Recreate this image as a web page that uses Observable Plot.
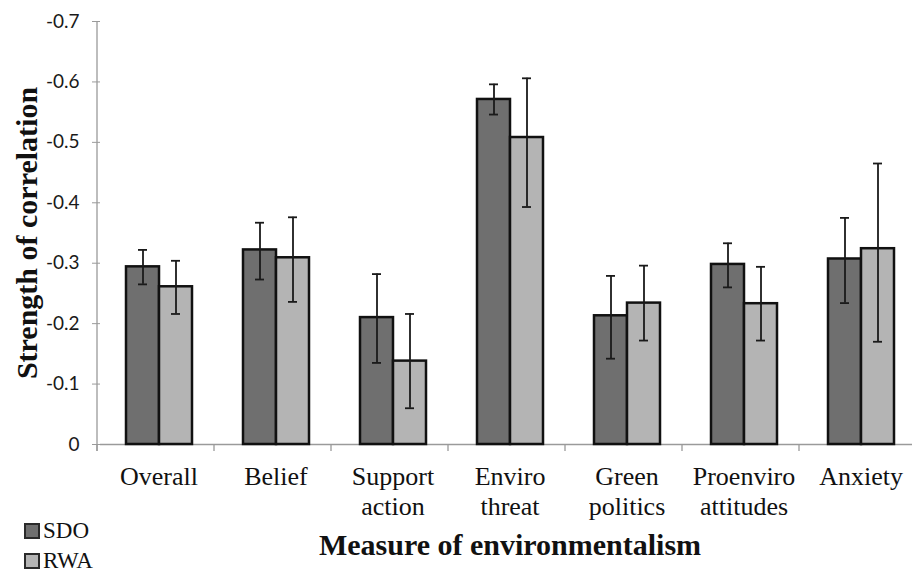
<!DOCTYPE html>
<html>
<head>
<meta charset="utf-8">
<script src="https://cdn.jsdelivr.net/npm/d3@7"></script>
<script src="https://cdn.jsdelivr.net/npm/@observablehq/plot@0.6"></script>
<style>
  html, body { margin: 0; padding: 0; background: #fff; }
  #wrap { position: relative; width: 912px; height: 575px; overflow: hidden; background: #fff; }
  #chart svg { display: block; overflow: hidden; }
  #below { position: relative; width: 912px; height: 47px; font-family: "Liberation Serif", "Times New Roman", Times, Tinos, serif; color: #111; }
  .key { position: absolute; left: 24px; height: 24px; display: flex; align-items: center; font-size: 23px; line-height: 24px; }
  .key .sw { width: 12px; height: 12px; border: 2px solid #2a2a2a; margin-right: 3px; }
  #xtitle { position: absolute; left: 0; width: 1020px; top: 2px; text-align: center; font-weight: bold; font-size: 30px; line-height: 30px; }
</style>
</head>
<body>
<div id="wrap">
  <div id="chart"></div>
  <div id="below"></div>
</div>
<script>
// ---- data ----
const categories = ["Overall", "Belief", "Support action", "Enviro threat", "Green politics", "Proenviro attitudes", "Anxiety"];
const categoryLabels = ["Overall", "Belief", "Support\naction", "Enviro\nthreat", "Green\npolitics", "Proenviro\nattitudes", "Anxiety"];
const series = ["SDO", "RWA"];
const seriesColors = ["#6f6f6f", "#b4b4b4"];

const sdoR      = [-0.294, -0.322, -0.210, -0.571, -0.213, -0.298, -0.307];
const sdoLow    = [-0.265, -0.273, -0.135, -0.546, -0.142, -0.260, -0.234];
const sdoHigh   = [-0.322, -0.367, -0.282, -0.596, -0.279, -0.333, -0.375];

const rwaR      = [-0.261, -0.309, -0.138, -0.508, -0.234, -0.233, -0.324];
const rwaLow    = [-0.216, -0.236, -0.060, -0.393, -0.172, -0.172, -0.170];
const rwaHigh   = [-0.304, -0.376, -0.216, -0.606, -0.296, -0.294, -0.465];

const yTicks = [0, -0.1, -0.2, -0.3, -0.4, -0.5, -0.6, -0.7];
const yTitle = "Strength of correlation";
const xTitle = "Measure of environmentalism";

const serifFont = "'Liberation Serif', 'Times New Roman', Times, Tinos, serif";

// ---- table built from the arrays ----
const rows = [];
categories.forEach((c, i) => {
  rows.push({category: c, series: "SDO", r: sdoR[i], low: sdoLow[i], high: sdoHigh[i]});
  rows.push({category: c, series: "RWA", r: rwaR[i], low: rwaLow[i], high: rwaHigh[i]});
});
const labelOf = Object.fromEntries(categories.map((c, i) => [c, categoryLabels[i]]));

const plot = Plot.plot({
  width: 912,
  height: 528,
  marginTop: 21,
  marginBottom: 84,
  marginLeft: 97,
  marginRight: -9,
  style: {background: "#fff", fontFamily: serifFont},
  fx: {domain: categories, padding: 0, label: null},
  x: {domain: series, paddingInner: 0, paddingOuter: 0.73, axis: null},
  y: {domain: [0, -0.7], label: null},
  color: {domain: series, range: seriesColors},
  marks: [
    Plot.ruleY([0], {stroke: "#9a9a9a", strokeWidth: 1.3}),
    Plot.axisY({
      ticks: yTicks, tickSize: 8, tickPadding: 13, stroke: "#9a9a9a",
      tickFormat: d => d === 0 ? "0" : d.toFixed(1),
      fontFamily: "Lato", fontSize: 19, fill: "#1a1a1a", label: null
    }),
    Plot.axisFx({
      anchor: "bottom", tickSize: 0, tickPadding: 19,
      tickFormat: d => labelOf[d], fontFamily: serifFont,
      fontSize: 26, fill: "#111", lineHeight: 1.15, label: null
    }),
    Plot.barY(rows, {fx: "category", x: "series", y: "r", fill: "series", stroke: "#111", strokeWidth: 2.5}),
    Plot.ruleX(rows, {fx: "category", x: "series", y1: "low", y2: "high", stroke: "#1a1a1a", strokeWidth: 1.8}),
    Plot.tickY(rows, {fx: "category", x: "series", y: "low", insetLeft: 12, insetRight: 12, stroke: "#1a1a1a", strokeWidth: 1.8}),
    Plot.tickY(rows, {fx: "category", x: "series", y: "high", insetLeft: 12, insetRight: 12, stroke: "#1a1a1a", strokeWidth: 1.8}),
    Plot.text([yTitle], {
      fx: () => categories[0], text: d => d, frameAnchor: "left", rotate: -90,
      dx: -64, lineAnchor: "bottom", textAnchor: "middle",
      fontFamily: serifFont, fontWeight: "bold", fontSize: 30, fill: "#111"
    })
  ]
});

// y-axis line and category boundary ticks, placed with the plot's own scales
const fxs = plot.scale("fx");
const ys = plot.scale("y");
const yBase = ys.range[0], yTop = ys.range[1];
const step = fxs.step != null ? fxs.step : (fxs.range[1] - fxs.range[0]) / fxs.domain.length;
const g = d3.select(plot).append("g").attr("stroke", "#9a9a9a").attr("stroke-width", 1.3);
g.append("line").attr("x1", fxs.range[0]).attr("x2", fxs.range[0]).attr("y1", yTop).attr("y2", yBase + 7);
d3.range(fxs.domain.length + 1).forEach(i => {
  const x = fxs.range[0] + i * step;
  g.append("line").attr("x1", x).attr("x2", x).attr("y1", yBase).attr("y2", yBase + 7);
});

document.getElementById("chart").appendChild(plot);

// legend and x title below the svg
const below = d3.select("#below");
series.forEach((s, i) => {
  const k = below.append("div").attr("class", "key").style("top", (i === 0 ? -9 : 21) + "px");
  k.append("div").attr("class", "sw").style("background", seriesColors[i]);
  k.append("span").text(s);
});
below.append("div").attr("id", "xtitle").text(xTitle);
</script>
</body>
</html>
